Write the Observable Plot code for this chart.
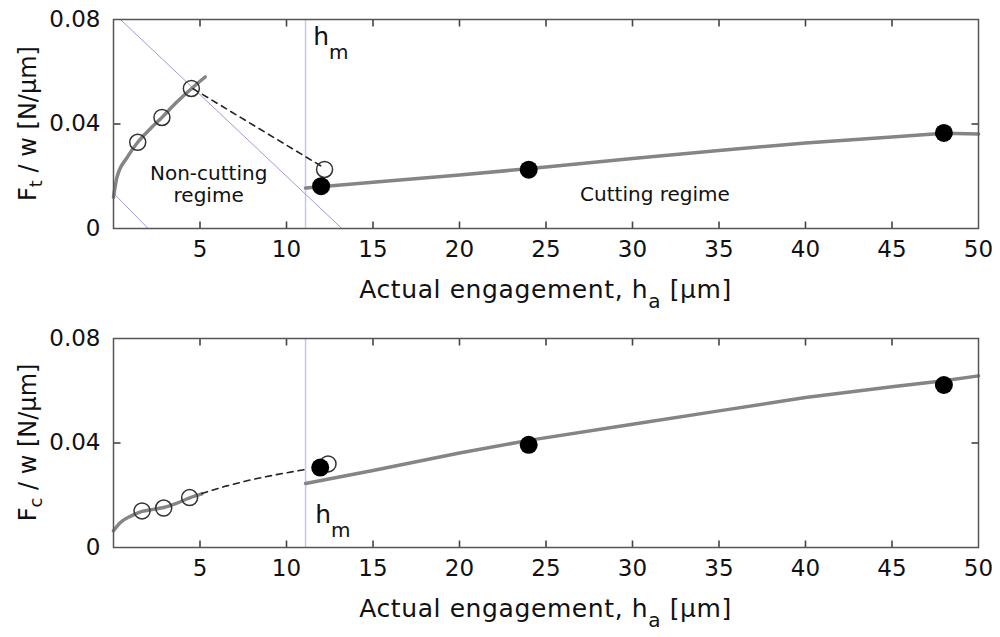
<!DOCTYPE html>
<html>
<head>
<meta charset="utf-8">
<script src="https://cdn.jsdelivr.net/npm/d3@7"></script>
<script src="https://cdn.jsdelivr.net/npm/@observablehq/plot@0.6"></script>
<style>
  html, body { margin: 0; padding: 0; background: #fff; }
  #chart svg { display: block; }
</style>
</head>
<body>
<div id="chart"></div>
<script>
// ---- axes ----
const xTicks = [5, 10, 15, 20, 25, 30, 35, 40, 45, 50];
const xInnerTicks = [5, 10, 15, 20, 25, 30, 35, 40, 45];
const yTicks = [0, 0.04, 0.08];
const yInnerTicks = [0.04];
const hmX = 11.1; // minimum chip thickness h_m

// ---- top panel: thrust force F_t / w ----
const ftCurveX = [0, 0.2, 0.8, 1.4, 2.1, 2.8, 3.6, 4.5, 5.3];
const ftCurveY = [0.012, 0.0196, 0.0273, 0.033, 0.038, 0.0425, 0.048, 0.0535, 0.058];
const ftCutX = [11.1, 15, 20, 25, 30, 35, 40, 45, 48, 50];
const ftCutY = [0.0155, 0.0177, 0.0205, 0.0235, 0.0268, 0.0299, 0.0327, 0.035, 0.0365, 0.0362];
const ftDashX = [4.6, 12.1];
const ftDashY = [0.0535, 0.0235];
const ftOpenX = [1.4, 2.8, 4.5, 12.2];
const ftOpenY = [0.033, 0.0425, 0.0536, 0.0226];
const ftFillX = [12, 24, 48];
const ftFillY = [0.0162, 0.0225, 0.0366];
const ftGuide1X = [0.4, 13.2];
const ftGuide1Y = [0.08, 0];
const ftGuide2X = [0, 2.0];
const ftGuide2Y = [0.0135, 0];
const ftNotes = [
  {x: 5.5, y: 0.0184, text: "Non-cutting"},
  {x: 5.5, y: 0.0101, text: "regime"},
  {x: 31.3, y: 0.0107, text: "Cutting regime"}
];

// ---- bottom panel: cutting force F_c / w ----
const fcCurveX = [0, 0.4, 1.0, 1.65, 2.3, 2.9, 3.6, 4.4, 5.1];
const fcCurveY = [0.0064, 0.0096, 0.012, 0.0138, 0.0146, 0.0153, 0.0168, 0.019, 0.0205];
const fcCutX = [11.1, 15, 20, 24, 30, 35, 40, 45, 48, 50];
const fcCutY = [0.0245, 0.0295, 0.0362, 0.041, 0.0472, 0.0523, 0.0574, 0.0615, 0.0638, 0.0657];
const fcDashX = [5.1, 6.5, 8, 9.5, 11.2];
const fcDashY = [0.0207, 0.0235, 0.026, 0.028, 0.030];
const fcOpenX = [1.65, 2.9, 4.4, 12.4];
const fcOpenY = [0.014, 0.0151, 0.0191, 0.032];
const fcFillX = [11.95, 24, 48];
const fcFillY = [0.0306, 0.0393, 0.0622];

const pts = (X, Y) => X.map((x, i) => ({x, y: Y[i]}));
const X_MAX = 50, Y_MAX = 0.08;
const PLOT_H = 209, PLOT_W = 865, TICK = 7;
const tickLenY = Y_MAX * TICK / PLOT_H;
const tickLenX = X_MAX * TICK / PLOT_W;

// tick segments (data units) built from the tick arrays
const tickSegs = [
  ...xInnerTicks.map(t => ({x1: t, x2: t, y1: 0, y2: tickLenY})),
  ...xInnerTicks.map(t => ({x1: t, x2: t, y1: Y_MAX - tickLenY, y2: Y_MAX})),
  ...yInnerTicks.map(t => ({x1: 0, x2: tickLenX, y1: t, y2: t})),
  ...yInnerTicks.map(t => ({x1: X_MAX - tickLenX, x2: X_MAX, y1: t, y2: t}))
];

function panel(o) {
  const svg = Plot.plot({
    width: 1000,
    height: o.height,
    marginTop: o.mt,
    marginBottom: o.mb,
    marginLeft: 113,
    marginRight: 22,
    style: {fontFamily: "'DejaVu Sans', sans-serif", fontSize: "23px", color: "#111", background: "#fff", overflow: "visible"},
    x: {domain: [0, X_MAX]},
    y: {domain: [0, Y_MAX]},
    marks: [
      Plot.ruleX([hmX], {stroke: "#c6c6ee", strokeWidth: 1.5}),
      ...o.guides.map(g => Plot.line(pts(g[0], g[1]), {x: "x", y: "y", stroke: "#9c9cdc", strokeWidth: 1})),
      Plot.line(pts(o.curveX, o.curveY), {x: "x", y: "y", stroke: "#858585", strokeWidth: 3.5, curve: "monotone-x"}),
      Plot.line(pts(o.cutX, o.cutY), {x: "x", y: "y", stroke: "#858585", strokeWidth: 3.5}),
      Plot.line(pts(o.dashX, o.dashY), {x: "x", y: "y", stroke: "#222", strokeWidth: 1.6, strokeDasharray: "6,5"}),
      Plot.dot(pts(o.openX, o.openY), {x: "x", y: "y", r: 8, stroke: "#333", strokeWidth: 1.5, fill: "none"}),
      Plot.dot(pts(o.fillX, o.fillY), {x: "x", y: "y", r: 9, fill: "#000", stroke: "none"}),
      Plot.text(o.notes, {x: "x", y: "y", text: "text", fontSize: 20, textAnchor: "middle", lineAnchor: "bottom", fill: "#111"}),
      // inward tick marks on all four sides
      Plot.link(tickSegs, {x1: "x1", x2: "x2", y1: "y1", y2: "y2", stroke: "#444", strokeWidth: 1.6}),
      Plot.frame({stroke: "#555", strokeWidth: 1.5}),
      Plot.axisX(xTicks, {anchor: "bottom", tickSize: 0, tickPadding: 12, fontSize: 23, label: null}),
      Plot.axisY(yTicks, {anchor: "left", tickSize: 0, tickPadding: 13, fontSize: 23, label: null,
        tickFormat: d => d === 0 ? "0" : d.toFixed(2)})
    ]
  });

  const sx = svg.scale("x"), sy = svg.scale("y");
  const s = d3.select(svg);
  const x0 = sx.apply(0), x1 = sx.apply(X_MAX), yb = sy.apply(0), yt = sy.apply(Y_MAX);

  // x axis title with subscript
  const xt = s.append("text")
    .attr("x", (x0 + x1) / 2).attr("y", yb + 70)
    .attr("text-anchor", "middle").attr("font-size", 25).attr("fill", "#111")
    .style("letter-spacing", "0.6px");
  xt.append("tspan").text("Actual engagement, h");
  xt.append("tspan").attr("dy", 10).attr("font-size", 20).text("a");
  xt.append("tspan").attr("dy", -10).text(" [\u03bcm]");

  // y axis title with subscript
  const yl = s.append("text")
    .attr("transform", `translate(36,${(yb + yt) / 2}) rotate(-90)`)
    .attr("text-anchor", "middle").attr("font-size", 24).attr("fill", "#111");
  yl.append("tspan").text("F");
  yl.append("tspan").attr("dy", 6).attr("font-size", 18).text(o.ySub);
  yl.append("tspan").attr("dy", -6).text(" / w [N/\u03bcm]");

  // h_m label
  const hm = s.append("text")
    .attr("x", sx.apply(o.hmLabel[0])).attr("y", sy.apply(o.hmLabel[1]))
    .attr("text-anchor", "start")
    .attr("font-size", 25).attr("fill", "#111");
  hm.append("tspan").text("h");
  hm.append("tspan").attr("dy", 14).attr("font-size", 20).text("m");

  return svg;
}

const topPanel = panel({
  height: 318, mt: 19, mb: 90,
  curveX: ftCurveX, curveY: ftCurveY,
  cutX: ftCutX, cutY: ftCutY,
  dashX: ftDashX, dashY: ftDashY,
  openX: ftOpenX, openY: ftOpenY,
  fillX: ftFillX, fillY: ftFillY,
  guides: [[ftGuide1X, ftGuide1Y], [ftGuide2X, ftGuide2Y]],
  notes: ftNotes,
  ySub: "t",
  hmLabel: [11.57, 0.070]
});
const bottomPanel = panel({
  height: 319, mt: 20, mb: 90,
  curveX: fcCurveX, curveY: fcCurveY,
  cutX: fcCutX, cutY: fcCutY,
  dashX: fcDashX, dashY: fcDashY,
  openX: fcOpenX, openY: fcOpenY,
  fillX: fcFillX, fillY: fcFillY,
  guides: [],
  notes: [],
  ySub: "c",
  hmLabel: [11.69, 0.0090]
});
document.getElementById("chart").append(topPanel, bottomPanel);
</script>
</body>
</html>
